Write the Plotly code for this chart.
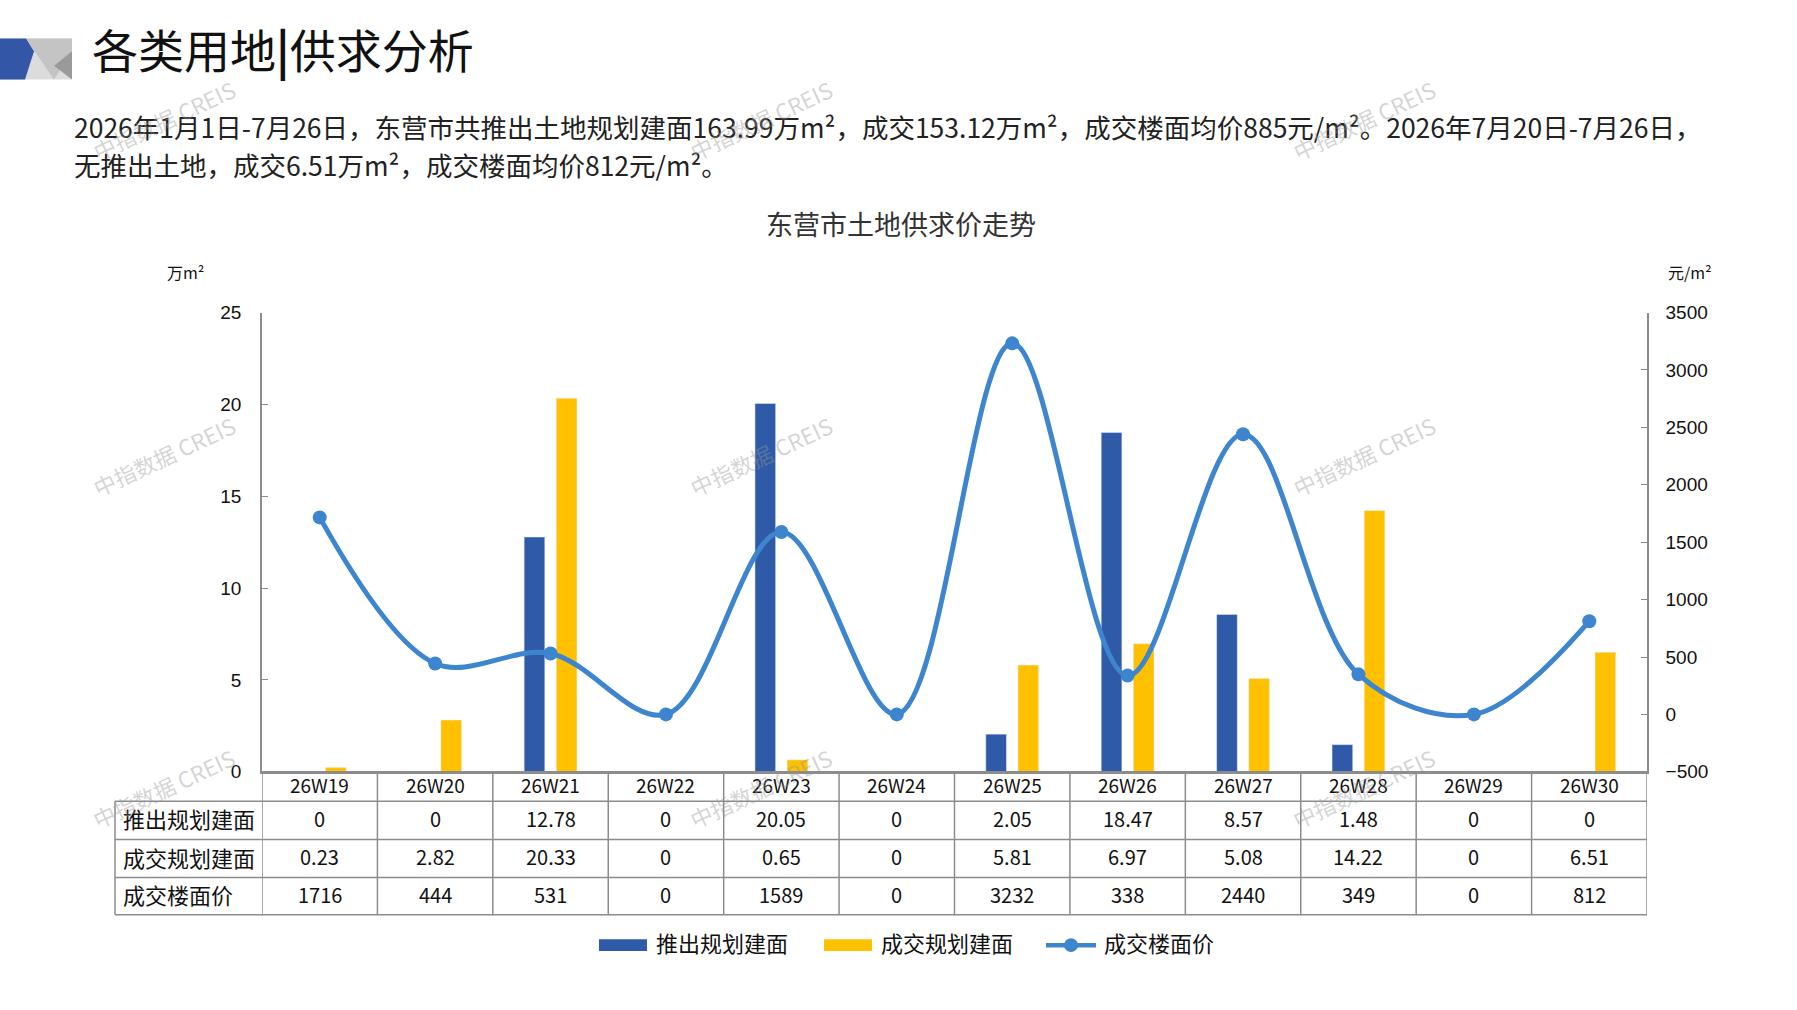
import plotly.graph_objects as go

# ---------------- data ----------------
categories = ["26W19", "26W20", "26W21", "26W22", "26W23", "26W24",
              "26W25", "26W26", "26W27", "26W28", "26W29", "26W30"]
supply_area = [0, 0, 12.78, 0, 20.05, 0, 2.05, 18.47, 8.57, 1.48, 0, 0]
deal_area = [0.23, 2.82, 20.33, 0, 0.65, 0, 5.81, 6.97, 5.08, 14.22, 0, 6.51]
deal_price = [1716, 444, 531, 0, 1589, 0, 3232, 338, 2440, 349, 0, 812]
series_names = ["推出规划建面", "成交规划建面", "成交楼面价"]
left_ticks = [0, 5, 10, 15, 20, 25]
right_ticks = [-500, 0, 500, 1000, 1500, 2000, 2500, 3000, 3500]

page_title = "各类用地<b>|</b>供求分析"
chart_title = "东营市土地供求价走势"
para_lines = [
    "2026年1月1日-7月26日，东营市共推出土地规划建面163.99万m²，成交153.12万m²，成交楼面均价885元/m²。2026年7月20日-7月26日，",
    "无推出土地，成交6.51万m²，成交楼面均价812元/m²。",
]
left_unit = "万m²"
right_unit = "元/m²"
watermark = "中指数据 CREIS"

# ---------------- styling ----------------
W, H = 1797, 1010
BLUE = "#2F5AA8"
YELLOW = "#FFC000"
LINE = "#3D85CE"
GRID = "#8C8C8C"
CJK = "Noto Sans CJK SC"
NUM = "Liberation Sans, Arial"

def X(px):
    return px / W

def Y(py):
    return 1 - py / H

plot_l, plot_r, plot_t, plot_b = 262, 1647, 309, 778
tab_l = 115
row_lines = [778, 808, 847, 886, 924]

fig = go.Figure()
fig.add_trace(go.Bar(x=categories, y=supply_area, name=series_names[0],
                     marker_color=BLUE, showlegend=False))
fig.add_trace(go.Bar(x=categories, y=deal_area, name=series_names[1],
                     marker_color=YELLOW, showlegend=False))
fig.add_trace(go.Scatter(x=categories, y=deal_price, name=series_names[2], yaxis="y2",
                         mode="lines+markers",
                         line=dict(color=LINE, width=5, shape="spline", smoothing=1.0),
                         marker=dict(color=LINE, size=14), showlegend=False))

axis_common = dict(showgrid=False, zeroline=False, showline=True, linecolor=GRID,
                   linewidth=1.5, ticks="inside", ticklen=6, tickcolor=GRID,
                   tickfont=dict(family=NUM, size=19, color="#111"))

fig.update_layout(
    width=W, height=H,
    margin=dict(l=0, r=0, t=0, b=0),
    paper_bgcolor="white", plot_bgcolor="white",
    barmode="group", bargap=0.443, bargroupgap=0.357,
    xaxis=dict(domain=[X(plot_l), X(plot_r)], type="category",
               range=[-0.5, len(categories) - 0.5],
               showticklabels=False, showgrid=False, zeroline=False,
               showline=True, linecolor=GRID, linewidth=1.5, ticks=""),
    yaxis=dict(domain=[Y(plot_b), Y(plot_t)], range=[0, 25],
               tickvals=left_ticks, ticklabelstandoff=15, **axis_common),
    yaxis2=dict(domain=[Y(plot_b), Y(plot_t)], range=[-500, 3500], overlaying="y",
                side="right", anchor="x", tickvals=right_ticks,
                ticklabelstandoff=13, **axis_common),
)

shapes = []
annotations = []

# ---- header decoration ----
shapes.append(dict(type="rect", xref="paper", yref="paper", x0=X(0), x1=X(72),
                   y0=Y(71), y1=Y(29), fillcolor="#DCDCDC", line_width=0, layer="below"))
shapes.append(dict(type="path", xref="paper", yref="paper",
                   path=f"M {X(26)},{Y(29)} L {X(72)},{Y(29)} L {X(72)},{Y(42)} L {X(54)},{Y(71)} Z",
                   fillcolor="#C4C4C4", line_width=0))
shapes.append(dict(type="path", xref="paper", yref="paper",
                   path=f"M {X(72)},{Y(42)} L {X(54)},{Y(57)} L {X(72)},{Y(71)} Z",
                   fillcolor="#9A9A9A", line_width=0))
shapes.append(dict(type="path", xref="paper", yref="paper",
                   path=f"M {X(0)},{Y(29)} L {X(26)},{Y(29)} L {X(34)},{Y(42)} L {X(25)},{Y(71)} L {X(0)},{Y(71)} Z",
                   fillcolor="#3456A6", line_width=0))

annotations.append(dict(text=page_title, xref="paper", yref="paper", x=X(90), y=Y(39),
                        xanchor="left", yanchor="middle", showarrow=False,
                        font=dict(family=CJK, size=46, color="#111")))
for ln, py in zip(para_lines, [119, 158]):
    annotations.append(dict(text=ln, xref="paper", yref="paper",
                            x=X(72), y=Y(py), xanchor="left", yanchor="middle", align="left",
                            showarrow=False, font=dict(family=CJK, size=26.5, color="#222")))
annotations.append(dict(text=chart_title, xref="paper", yref="paper", x=X(901), y=Y(218),
                        xanchor="center", yanchor="middle", showarrow=False,
                        font=dict(family=CJK, size=27, color="#333")))
annotations.append(dict(text=left_unit, xref="paper", yref="paper", x=X(185), y=Y(268),
                        xanchor="center", yanchor="middle", showarrow=False,
                        font=dict(family=CJK, size=16, color="#111")))
annotations.append(dict(text=right_unit, xref="paper", yref="paper", x=X(1690), y=Y(268),
                        xanchor="center", yanchor="middle", showarrow=False,
                        font=dict(family=CJK, size=16, color="#111")))

# ---- data table ----
n = len(categories)
for k, ry in enumerate(row_lines):
    x0 = plot_l if k == 0 else tab_l
    shapes.append(dict(type="line", xref="paper", yref="paper", x0=X(x0), x1=X(plot_r),
                       y0=Y(ry), y1=Y(ry), line=dict(color=GRID, width=1.5)))
shapes.append(dict(type="line", xref="paper", yref="paper", x0=X(tab_l), x1=X(tab_l),
                   y0=Y(row_lines[1]), y1=Y(row_lines[-1]), line=dict(color=GRID, width=1.5)))
for i in range(n + 1):
    shapes.append(dict(type="line", xref="x", yref="paper", x0=i - 0.5, x1=i - 0.5,
                       y0=Y(row_lines[0]), y1=Y(row_lines[-1]), line=dict(color=GRID, width=1.5)))

def fmt(v):
    return f"{v:g}"

rows = [supply_area, deal_area, deal_price]
for i, c in enumerate(categories):
    annotations.append(dict(text=c, xref="x", yref="paper", x=i,
                            y=Y((row_lines[0] + row_lines[1]) / 2 - 2), xanchor="center",
                            yanchor="middle", showarrow=False,
                            font=dict(family=CJK, size=19, color="#111")))
    for r, vals in enumerate(rows):
        annotations.append(dict(text=fmt(vals[i]), xref="x", yref="paper", x=i,
                                y=Y((row_lines[r + 1] + row_lines[r + 2]) / 2 - 2),
                                xanchor="center", yanchor="middle", showarrow=False,
                                font=dict(family=CJK, size=20, color="#111")))
for r, nm in enumerate(series_names):
    annotations.append(dict(text=nm, xref="paper", yref="paper", x=X(121),
                            y=Y((row_lines[r + 1] + row_lines[r + 2]) / 2 - 2),
                            xanchor="left", yanchor="middle", showarrow=False,
                            font=dict(family=CJK, size=22, color="#111")))

# ---- legend (custom) ----
ly = 955
shapes.append(dict(type="rect", xref="paper", yref="paper", x0=X(599), x1=X(647),
                   y0=Y(ly + 6), y1=Y(ly - 6), fillcolor=BLUE, line_width=0))
shapes.append(dict(type="rect", xref="paper", yref="paper", x0=X(824), x1=X(872),
                   y0=Y(ly + 6), y1=Y(ly - 6), fillcolor=YELLOW, line_width=0))
shapes.append(dict(type="line", xref="paper", yref="paper", x0=X(1046), x1=X(1096),
                   y0=Y(ly), y1=Y(ly), line=dict(color=LINE, width=4.5)))
shapes.append(dict(type="circle", xref="paper", yref="paper", x0=X(1064), x1=X(1078),
                   y0=Y(ly + 7), y1=Y(ly - 7), fillcolor=LINE, line_width=0))
for nm, lx in zip(series_names, [654, 879, 1102]):
    annotations.append(dict(text=nm, xref="paper", yref="paper", x=X(lx), y=Y(ly - 3),
                            xanchor="left", yanchor="middle", showarrow=False,
                            font=dict(family=CJK, size=22, color="#111")))

# ---- watermarks ----
for wx in [163, 760, 1363]:
    for wy in [112, 455, 795]:
        annotations.append(dict(text=watermark, xref="paper", yref="paper", x=X(wx), y=Y(wy),
                                xanchor="center", yanchor="middle", showarrow=False,
                                textangle=-25,
                                font=dict(family=CJK, size=22, color="rgba(150,150,150,0.42)")))

fig.update_layout(shapes=shapes, annotations=annotations)
fig.write_html("out.html", config={"displayModeBar": False},
               post_script="document.body.style.margin='0px';")
